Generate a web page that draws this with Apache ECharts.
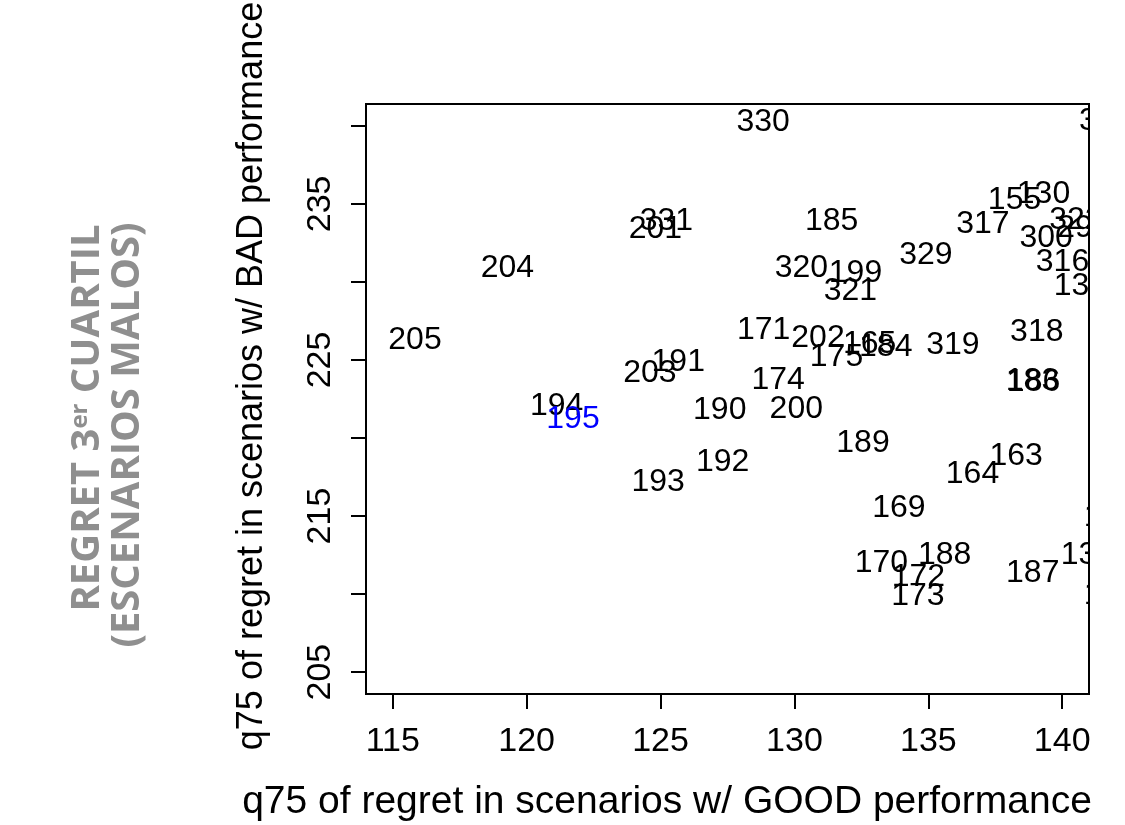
<!DOCTYPE html>
<html>
<head>
<meta charset="utf-8">
<script src="https://cdn.jsdelivr.net/npm/echarts@6/dist/echarts.min.js"></script>
<style>
  html, body { margin: 0; padding: 0; background: #ffffff; }
  #chart { width: 1125px; height: 825px; }
</style>
</head>
<body>
<div id="chart"></div>
<script>
// Policy identifiers, drawn as text at their (good, bad) regret quantiles
const policyIds = [
  '330', '332', '331', '201', '204', '205', '191', '203', '194', '195',
  '190', '193', '192', '155', '130', '185', '317', '322', '298', '300',
  '329', '320', '199', '321', '316', '137', '171', '202', '175', '165',
  '184', '319', '318', '174', '183', '186', '200', '189', '163', '164',
  '169', '170', '188', '172', '173', '187', '134', '138', '139'
];
// q75 of regret in scenarios with GOOD performance
const goodQ75 = [
  128.83, 141.62, 125.22, 124.81, 119.28, 115.83, 125.66, 124.60, 121.12, 121.73,
  127.21, 124.91, 127.32, 138.22, 139.30, 131.39, 137.04, 140.51, 140.81, 139.40,
  134.91, 130.26, 132.28, 132.09, 140.01, 140.68, 128.85, 130.88, 131.57, 132.81,
  133.41, 135.92, 139.05, 129.39, 138.89, 138.93, 130.07, 132.56, 138.28, 136.65,
  133.90, 133.25, 135.61, 134.63, 134.61, 138.90, 140.94, 141.80, 141.80
];
// q75 of regret in scenarios with BAD performance
const badQ75 = [
  240.24, 240.32, 233.87, 233.38, 230.88, 226.24, 224.89, 224.17, 222.01, 221.22,
  221.79, 217.20, 218.48, 235.21, 235.64, 233.87, 233.72, 233.97, 233.46, 232.80,
  231.69, 230.88, 230.56, 229.44, 231.28, 229.74, 226.88, 226.39, 225.21, 226.03,
  225.83, 225.96, 226.78, 223.72, 223.65, 223.59, 221.84, 219.66, 218.85, 217.67,
  215.49, 211.97, 212.50, 211.07, 209.87, 211.37, 212.50, 214.90, 209.90
];
// Policy shown in blue
const highlightedIds = ['195'];

const xTickValues = [115, 120, 125, 130, 135, 140];
const yTickValues = [205, 210, 215, 220, 225, 230, 235, 240];
const yLabelValues = [205, 215, 225, 235];

const xTitle = 'q75 of regret in scenarios w/ GOOD performance';
const yTitle = 'q75 of regret in scenarios w/ BAD performance';

const FONT = '"Liberation Sans", Arial, sans-serif';

const chart = echarts.init(document.getElementById('chart'), null, { renderer: 'canvas' });

const points = goodQ75.map((g, i) => [g, badQ75[i]]);

chart.setOption({
  animation: false,
  backgroundColor: '#ffffff',
  grid: {
    left: 366, top: 104, width: 723, height: 590,
    show: true, borderColor: '#000000', borderWidth: 2, backgroundColor: 'transparent'
  },
  xAxis: {
    type: 'value', min: 114, max: 141,
    axisLine: { show: false },
    splitLine: { show: false },
    axisTick: {
      show: true, inside: false, length: 15, customValues: xTickValues,
      lineStyle: { color: '#000000', width: 2 }
    },
    axisLabel: {
      show: true, customValues: xTickValues, margin: 31,
      color: '#000000', fontSize: 34, fontFamily: FONT
    }
  },
  yAxis: {
    type: 'value', min: 203.6, max: 241.4,
    axisLine: { show: false },
    splitLine: { show: false },
    axisTick: {
      show: true, inside: false, length: 15, customValues: yTickValues,
      lineStyle: { color: '#000000', width: 2 }
    },
    axisLabel: {
      show: true, customValues: yLabelValues, rotate: 90, margin: 28,
      color: '#000000', fontSize: 34, fontFamily: FONT
    }
  },
  series: [{
    type: 'custom',
    clip: true,
    data: points,
    renderItem: function (params, api) {
      const p = api.coord([api.value(0), api.value(1)]);
      const id = policyIds[params.dataIndex];
      return {
        type: 'text',
        x: p[0], y: p[1],
        style: {
          text: id,
          align: 'center',
          verticalAlign: 'middle',
          fill: highlightedIds.indexOf(id) >= 0 ? '#0000ff' : '#000000',
          font: '32px ' + FONT
        }
      };
    }
  }],
  graphic: [
    {
      type: 'text', x: 667, y: 802,
      style: { text: xTitle, align: 'center', verticalAlign: 'middle', fill: '#000000', font: '39px ' + FONT }
    },
    {
      type: 'text', x: 252, y: 376, rotation: Math.PI / 2,
      style: { text: yTitle, align: 'center', verticalAlign: 'middle', fill: '#000000', font: '36px ' + FONT }
    },
    {
      type: 'text', x: 88, y: 418, rotation: Math.PI / 2,
      style: {
        text: '{b|REGRET 3}{s|er}{b| CUARTIL}',
        align: 'center', verticalAlign: 'middle',
        rich: {
          b: { fill: '#8f8f8f', font: 'bold 40px "Open Sans", sans-serif', verticalAlign: 'bottom' },
          s: { fill: '#8f8f8f', font: 'bold 24px "Open Sans", sans-serif', verticalAlign: 'top' }
        }
      }
    },
    {
      type: 'text', x: 128, y: 435, rotation: Math.PI / 2,
      style: {
        text: '(ESCENARIOS MALOS)',
        align: 'center', verticalAlign: 'middle',
        fill: '#8f8f8f', font: 'bold 40px "Open Sans", sans-serif'
      }
    }
  ]
});
</script>
</body>
</html>
